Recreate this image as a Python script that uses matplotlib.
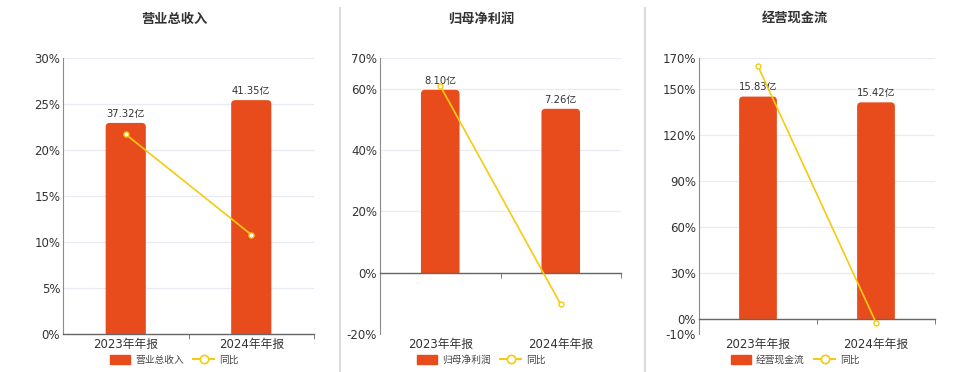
import matplotlib
matplotlib.use("Agg")
import matplotlib.pyplot as plt
from matplotlib.patches import Patch, FancyBboxPatch, Rectangle
from matplotlib.lines import Line2D
from matplotlib.ticker import FixedLocator, FuncFormatter

plt.rcParams['font.family'] = ['DejaVu Sans', 'Noto Sans CJK SC']

categories = ["2023年年报", "2024年年报"]
titles = ["营业总收入", "归母净利润", "经营现金流"]
bar_names = ["营业总收入", "归母净利润", "经营现金流"]
line_name = "同比"

revenue = [37.32, 41.35]
net_profit = [8.10, 7.26]
cash_flow = [15.83, 15.42]
bar_values = [revenue, net_profit, cash_flow]

revenue_yoy = [21.7, 10.80]
profit_yoy = [60.9, -10.37]
cash_yoy = [164.6, -2.59]
yoy_values = [revenue_yoy, profit_yoy, cash_yoy]

pct_ticks = [[0, 5, 10, 15, 20, 25, 30],
             [-20, 0, 20, 40, 60, 70],
             [-10, 0, 30, 60, 90, 120, 150, 170]]
pct_lims = [(0, 30), (-20, 70), (-10, 170)]
bar_lims = [(0, 48.8), (-2.72, 9.51), (-1.093, 18.58)]

BAR = "#E84C1C"
LINE = "#F5CB10"
TXT = "#333333"

fig = plt.figure(figsize=(9.6, 3.72), dpi=100)
W, H = 960, 372
lefts = [63, 380, 699]
rights = [314, 621, 935]
centers = [174, 481, 795]
top, bottom = 58, 334
RADIUS_PX = 4.0

for i in range(3):
    l, r = lefts[i], rights[i]
    ax = fig.add_axes([l / W, 1 - bottom / H, (r - l) / W, (bottom - top) / H])
    ax2 = ax.twinx()
    ax3 = ax.twinx()
    x = list(range(len(categories)))

    # percent axis (grid, ticks)
    ax.set_ylim(*pct_lims[i])
    ax.set_xlim(-0.5, 1.5)
    ax.yaxis.set_major_locator(FixedLocator(pct_ticks[i]))
    ax.yaxis.set_major_formatter(FuncFormatter(lambda v, p: f"{v:g}%"))
    ax.grid(axis='y', color='#e8ebf3', lw=0.9)
    ax.set_axisbelow(True)
    for s in ['top', 'right', 'bottom']:
        ax.spines[s].set_visible(False)
    ax.spines['left'].set_color('#8c8c8c')
    ax.tick_params(axis='y', length=0, labelsize=8.5, labelcolor=TXT, pad=2)
    ax.set_xticks(x)
    ax.set_xticklabels(categories)
    ax.tick_params(axis='x', which='major', length=0, labelsize=8.5, labelcolor=TXT, pad=3)

    # bar axis
    ax2.set_ylim(*bar_lims[i])
    bars = ax2.bar(x, bar_values[i], width=0.32, color=BAR, linewidth=0)
    xpx = (1.5 - (-0.5)) / (r - l)
    ypx = (bar_lims[i][1] - bar_lims[i][0]) / (bottom - top)
    for rect, v in zip(bars, bar_values[i]):
        bx, bw, bh = rect.get_x(), rect.get_width(), rect.get_height()
        rr = RADIUS_PX * xpx
        rpy = RADIUS_PX * ypx
        fb = FancyBboxPatch((bx + rr, -rpy * 2 + rpy), bw - 2 * rr, bh + rpy - rpy,
                            boxstyle=f"round,pad={rr},rounding_size={rr}",
                            mutation_aspect=ypx / xpx, facecolor=BAR, edgecolor='none',
                            transform=ax2.transData)
        ax2.add_patch(fb)
        clip = Rectangle((bx - rr, 0), bw + 2 * rr, bh * 2, transform=ax2.transData)
        fb.set_clip_path(clip)
        rect.set_visible(False)
        ax2.annotate(f"{v:.2f}亿", (bx + bw / 2, bh),
                     xytext=(0, 3), textcoords='offset points', ha='center', va='bottom',
                     fontsize=7.2, color=TXT)
    ax2.set_yticks([])
    for s in ['top', 'right', 'left']:
        ax2.spines[s].set_visible(False)
    ax2.xaxis.set_visible(True)
    ax2.spines['bottom'].set_position(('data', 0))
    ax2.spines['bottom'].set_color('#666666')
    ax2.spines['bottom'].set_linewidth(1.0)
    ax2.xaxis.set_minor_locator(FixedLocator([0.5, 1.5]))
    ax2.tick_params(axis='x', which='minor', length=3.5, color='#666666', direction='out')
    ax2.tick_params(axis='x', which='major', length=0, labelbottom=False)
    ax.tick_params(axis='x', which='minor', length=0)

    # line axis
    ax3.set_ylim(*pct_lims[i])
    ax3.plot(x, yoy_values[i], color=LINE, lw=1.2, marker='o', markersize=3.6,
             markerfacecolor='white', markeredgecolor=LINE, markeredgewidth=1.0, zorder=5)
    ax3.set_yticks([])
    for s in ax3.spines.values():
        s.set_visible(False)

    fig.text(centers[i] / W, 1 - 19 / H, titles[i], ha='center', va='center',
             fontsize=9.5, fontweight='bold', color=TXT, family=['Noto Sans CJK SC'])

    handles = [Patch(facecolor=BAR, edgecolor=BAR, label=bar_names[i]),
               Line2D([0], [0], color=LINE, lw=1.5, marker='o', markersize=6,
                      markerfacecolor='white', markeredgecolor=LINE, markeredgewidth=1.2,
                      label=line_name)]
    leg = fig.legend(handles=handles, loc='center', bbox_to_anchor=(centers[i] / W, 1 - 360 / H),
                     ncol=2, frameon=False, fontsize=7, handlelength=2.1, handleheight=1.0,
                     handletextpad=0.5, columnspacing=1.0, borderpad=0, borderaxespad=0)
    for t in leg.get_texts():
        t.set_color('#444444')
        t.set_family(['Noto Sans CJK SC'])

# separators
for xs in [340, 645]:
    fig.add_artist(Line2D([xs / W, xs / W], [0, 1 - 8 / H], color='#dcdcdc', lw=1.5))

fig.savefig("out.png", dpi=100)
